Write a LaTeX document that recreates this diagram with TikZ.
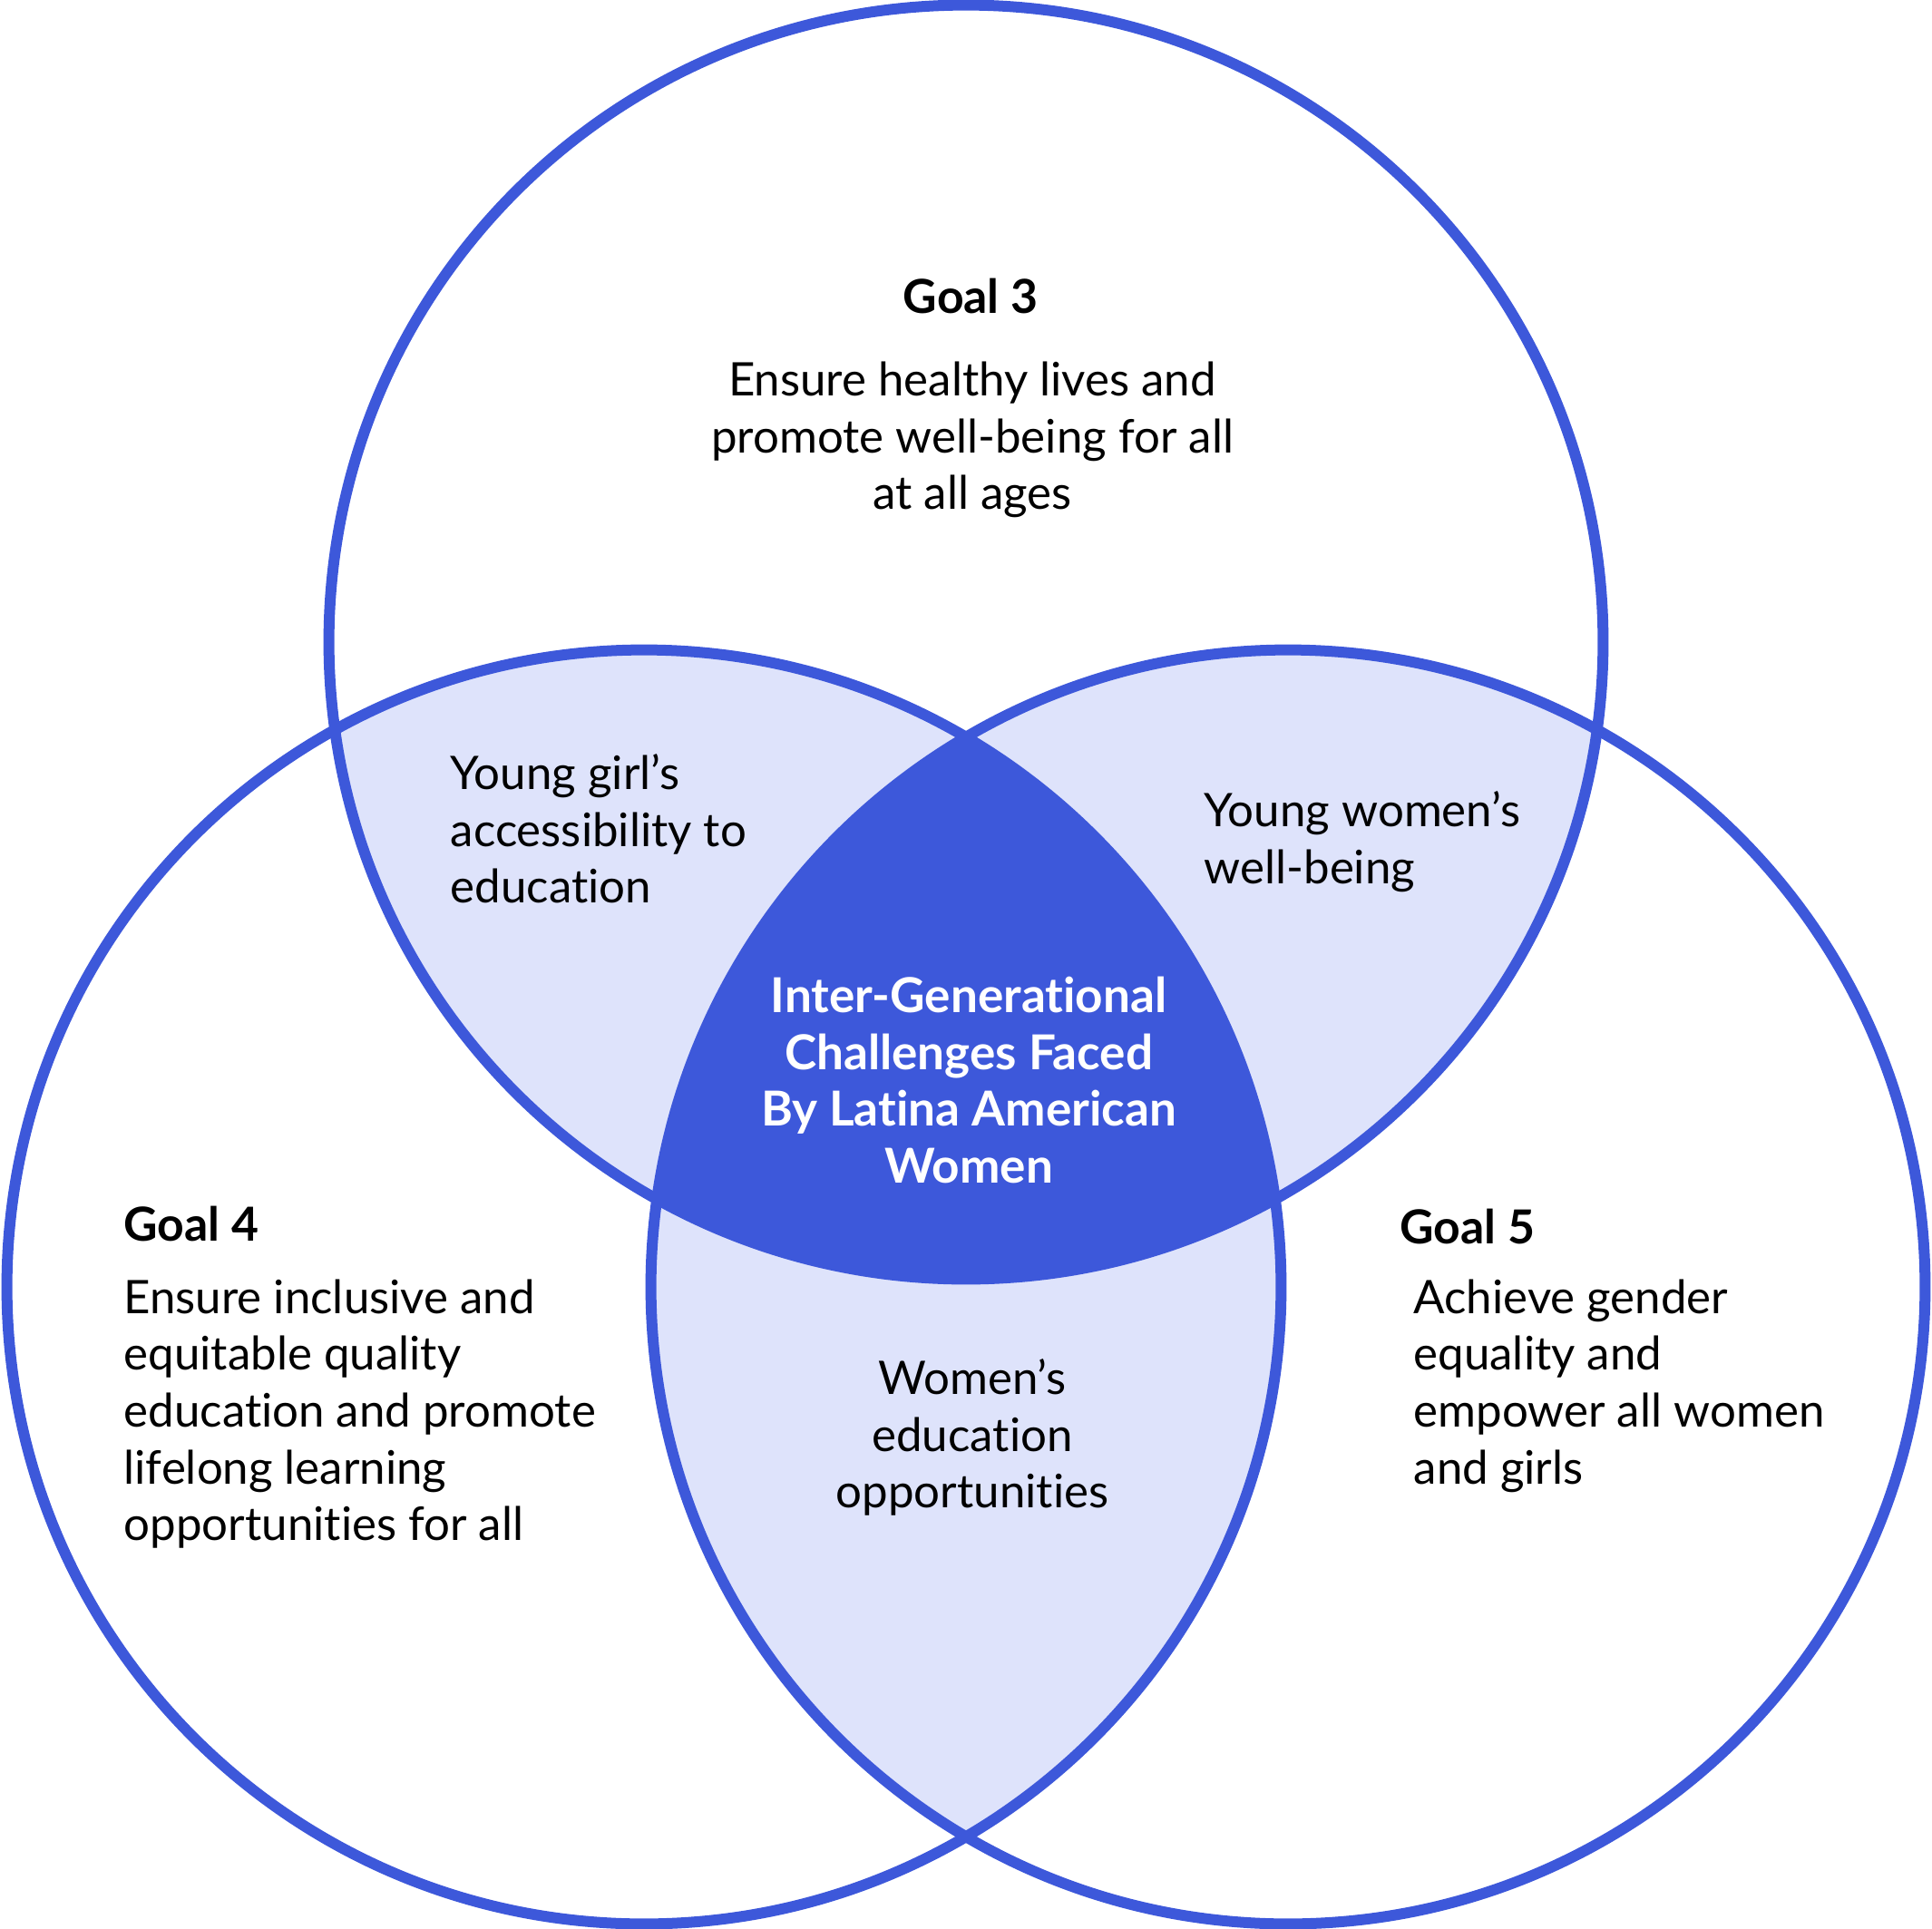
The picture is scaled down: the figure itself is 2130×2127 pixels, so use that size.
\documentclass[tikz,border=0pt]{standalone}
\usepackage{fontspec}
\setmainfont{Lato}[Ligatures=NoCommon]
\definecolor{vennblue}{RGB}{61,88,218}
\definecolor{vennlight}{RGB}{222,227,251}

\begin{document}
\begin{tikzpicture}[
  x=0.01cm, y=-0.01cm,
  ring/.style={draw=vennblue, line width=0.12cm},
  goal/.style={font=\fontsize{14.7}{18}\selectfont\bfseries, inner sep=0pt},
  desc/.style={font=\fontsize{14.5}{17.8}\selectfont, inner sep=0pt},
  core/.style={font=\fontsize{15.1}{17.8}\selectfont\bfseries, text=white, align=center, inner sep=0pt}
]
\useasboundingbox (0,0) rectangle (2130,2127);
\def\rad{7.02cm}
\coordinate (ctop) at (1065,708);
\coordinate (cleft) at (710,1419);
\coordinate (cright) at (1420,1419);

% pairwise overlaps
\begin{scope}
  \clip (ctop) circle (\rad);
  \fill[vennlight] (cleft) circle (\rad);
  \fill[vennlight] (cright) circle (\rad);
\end{scope}
\begin{scope}
  \clip (cleft) circle (\rad);
  \fill[vennlight] (cright) circle (\rad);
\end{scope}
% triple overlap
\begin{scope}
  \clip (ctop) circle (\rad);
  \clip (cleft) circle (\rad);
  \fill[vennblue] (cright) circle (\rad);
\end{scope}
\foreach \c in {ctop,cleft,cright}
  \draw[ring] (\c) circle (\rad);

\node[goal] (goal3) at (1070,326) {Goal 3};
\node[desc, align=center] (goal3txt) at (1072,485) {Ensure healthy lives and\\promote well-being for all\\at all ages};

\node[desc, align=left, anchor=west] (girls) at (496,914) {Young girl’s\\accessibility to\\education};
\node[desc, align=left, anchor=west] (young) at (1327,928) {Young women’s\\well-being};
\node[core] (center) at (1068,1191) {Inter-Generational\\Challenges Faced\\By Latina American\\Women};
\node[desc, align=center] (women) at (1072,1585) {Women’s\\education\\opportunities};

\node[goal, anchor=west] (goal4) at (136,1349) {Goal 4};
\node[desc, align=left, anchor=west] (goal4txt) at (136,1559) {Ensure inclusive and\\equitable quality\\education and promote\\lifelong learning\\opportunities for all};

\node[goal, anchor=west] (goal5) at (1543,1352) {Goal 5};
\node[desc, align=left, anchor=west] (goal5txt) at (1558,1528) {Achieve gender\\equality and\\empower all women\\and girls};
\end{tikzpicture}
\end{document}
